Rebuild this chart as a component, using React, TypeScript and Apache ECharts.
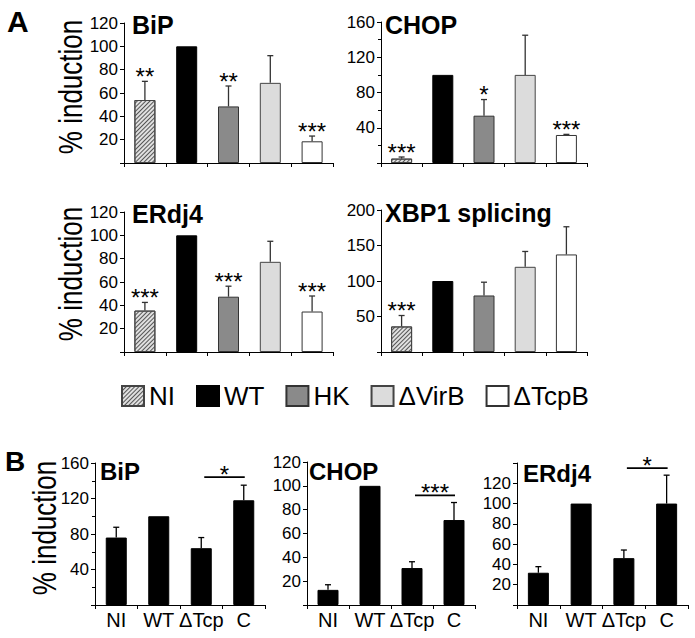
import React, { useEffect, useRef } from 'react';
import * as echarts from 'echarts';

const FONT = '"Liberation Sans", Arial, Helvetica, sans-serif';

// Panel A
const catsA = ['NI', 'WT', 'HK', 'ΔVirB', 'ΔTcpB'];
const bipA = [54, 100, 48.5, 68.7, 18.6];
const bipASd = [16, 0, 17.5, 23.3, 4.5];
const bipAStars = ['**', '', '**', '', '***'];
const chopA = [5, 100, 53.7, 100, 31.8];
const chopASd = [1.8, 0, 18.3, 45, 0.7];
const chopAStars = ['***', '', '*', '', '***'];
const erdj4A = [35.5, 100, 47.4, 77.3, 34.7];
const erdj4ASd = [7, 0, 9, 17.6, 13.3];
const erdj4AStars = ['***', '', '***', '', '***'];
const xbp1A = [36, 100, 79.6, 120, 137.4];
const xbp1ASd = [15.4, 0, 18.7, 21.6, 39];
const xbp1AStars = ['***', '', '', '', ''];

// Panel B
const catsB = ['NI', 'WT', 'ΔTcp', 'C'];
const bipB = [76, 100, 64, 118];
const bipBSd = [11.6, 0, 12, 17];
const chopB = [12.7, 100, 31, 71.3];
const chopBSd = [4.3, 0, 5.3, 14.7];
const erdj4B = [31.8, 100, 46.2, 100];
const erdj4BSd = [6, 0, 8, 28];
// significance brackets: [fromIndex, toIndex, level]
const bipBSig = [2, 3, 144];
const bipBSigLabel = '*';
const chopBSig = [2, 3, 92];
const chopBSigLabel = '***';
const erdj4BSig = [2, 3, 135];
const erdj4BSigLabel = '*';

const hatch = {
  symbol: 'rect',
  symbolSize: 1,
  dashArrayX: [1, 0],
  dashArrayY: [1, 2],
  rotation: -Math.PI / 4,
  color: '#555',
};

const styleA: any[] = [
  { color: '#e0e0e0', borderColor: '#444', borderWidth: 1, decal: hatch },
  { color: '#000', borderColor: '#000', borderWidth: 1 },
  { color: '#8a8a8a', borderColor: '#333', borderWidth: 1 },
  { color: '#dcdcdc', borderColor: '#444', borderWidth: 1 },
  { color: '#fff', borderColor: '#333', borderWidth: 1 },
];

function errRender(stars: string[], color: string) {
  return (params: any, api: any) => {
    const i = api.value(0);
    const v = api.value(1);
    const sd = api.value(2);
    const base = api.coord([i, v]);
    const top = api.coord([i, v + sd]);
    const children: any[] = [];
    if (sd > 0) {
      children.push({
        type: 'line',
        shape: { x1: base[0], y1: base[1], x2: top[0], y2: top[1] },
        style: { stroke: color, lineWidth: 1.3 },
      });
      children.push({
        type: 'line',
        shape: { x1: top[0] - 3, y1: top[1], x2: top[0] + 3, y2: top[1] },
        style: { stroke: color, lineWidth: 1.3 },
      });
    }
    const s = stars[params.dataIndex];
    if (s) {
      children.push({
        type: 'text',
        x: top[0],
        y: top[1] - 5,
        style: { text: s, fill: '#000', font: `24px ${FONT}`, align: 'center', verticalAlign: 'middle' },
      });
    }
    return { type: 'group', children };
  };
}

function sigRender(label: string) {
  return (params: any, api: any) => {
    const a = api.coord([api.value(0), api.value(2)]);
    const b = api.coord([api.value(1), api.value(2)]);
    return {
      type: 'group',
      children: [
        {
          type: 'line',
          shape: { x1: a[0] + 3, y1: a[1], x2: b[0] + 1, y2: b[1] },
          style: { stroke: '#000', lineWidth: 1.8 },
        },
        {
          type: 'text',
          x: (a[0] + b[0]) / 2 + 2,
          y: a[1] - 3,
          style: { text: label, fill: '#000', font: `24px ${FONT}`, align: 'center', verticalAlign: 'middle' },
        },
      ],
    };
  };
}

function xAx(grid: number, cats: string[], showLabels: boolean) {
  return {
    type: 'category',
    gridIndex: grid,
    data: cats,
    axisLine: { show: true, lineStyle: { color: '#000', width: 1 } },
    axisTick: { show: true, length: 4, lineStyle: { color: '#000' } },
    axisLabel: {
      show: showLabels,
      interval: 0,
      fontSize: 20,
      color: '#000',
      fontFamily: FONT,
      margin: 5,
    },
    splitLine: { show: false },
  };
}

function yAx(grid: number, max: number, interval: number, labelMax: number, minor: boolean) {
  return {
    type: 'value',
    gridIndex: grid,
    min: 0,
    max,
    interval,
    splitLine: { show: false },
    axisLine: { show: true, lineStyle: { color: '#000', width: 1 } },
    axisTick: { show: true, length: 4, lineStyle: { color: '#000' } },
    minorTick: { show: minor, splitNumber: 2, length: 3, lineStyle: { color: '#000' } },
    minorSplitLine: { show: false },
    axisLabel: {
      fontSize: 17,
      color: '#000',
      fontFamily: FONT,
      margin: 6,
      formatter: (v: number) => (v === 0 || v > labelMax ? '' : String(v)),
    },
  };
}

function barSeries(grid: number, vals: number[], styles: any[] | null) {
  return {
    type: 'bar',
    xAxisIndex: grid,
    yAxisIndex: grid,
    barWidth: 21,
    data: vals.map((v, i) => ({
      value: v,
      itemStyle: styles ? styles[i] : { color: '#000', borderColor: '#000', borderWidth: 1 },
    })),
    z: 2,
  };
}

function errSeries(grid: number, vals: number[], sds: number[], stars: string[], color: string) {
  return {
    type: 'custom',
    xAxisIndex: grid,
    yAxisIndex: grid,
    clip: false,
    z: 3,
    encode: { x: 0, y: 1 },
    data: vals.map((v, i) => [i, v, sds[i]]),
    renderItem: errRender(stars, color),
  };
}

function sigSeries(grid: number, sig: number[], label: string) {
  return {
    type: 'custom',
    xAxisIndex: grid,
    yAxisIndex: grid,
    clip: false,
    z: 3,
    encode: { x: [0, 1], y: 2 },
    data: [sig],
    renderItem: sigRender(label),
  };
}

function titleText(x: number, y: number, text: string, size: number) {
  return {
    type: 'text',
    x,
    y,
    style: { text, fill: '#000', font: `bold ${size}px ${FONT}`, align: 'left', verticalAlign: 'middle' },
  };
}

function yLabel(x: number, y: number) {
  return {
    type: 'text',
    x,
    y,
    rotation: Math.PI / 2,
    scaleY: 1.3,
    style: { text: '% induction', fill: '#000', font: `26px ${FONT}`, align: 'center', verticalAlign: 'middle' },
  };
}

export default function App() {
  const ref = useRef<HTMLDivElement>(null);
  useEffect(() => {
    if (!ref.current) return;
    const chart = echarts.init(ref.current, null, { renderer: 'svg' });
    const empty = [''];
    const option: any = {
      animation: false,
      backgroundColor: '#fff',
      grid: [
        { left: 124, top: 23, width: 209, height: 140, outerBoundsMode: 'none' },
        { left: 381, top: 22, width: 206, height: 141, outerBoundsMode: 'none' },
        { left: 124, top: 212, width: 209, height: 140, outerBoundsMode: 'none' },
        { left: 381, top: 210, width: 206, height: 142, outerBoundsMode: 'none' },
        { left: 95, top: 463, width: 170, height: 142, outerBoundsMode: 'none' },
        { left: 307, top: 462, width: 168, height: 143, outerBoundsMode: 'none' },
        { left: 517, top: 463, width: 171, height: 142, outerBoundsMode: 'none' },
        { left: 0, top: 0, width: 1, height: 1, show: false, outerBoundsMode: 'none' },
      ],
      xAxis: [
        xAx(0, catsA, false),
        xAx(1, catsA, false),
        xAx(2, catsA, false),
        xAx(3, catsA, false),
        xAx(4, catsB, true),
        xAx(5, catsB, true),
        xAx(6, catsB, true),
        { type: 'category', gridIndex: 7, data: empty, show: false },
      ],
      yAxis: [
        yAx(0, 120, 20, 120, false),
        yAx(1, 160, 40, 160, true),
        yAx(2, 120, 20, 120, false),
        yAx(3, 200, 50, 200, false),
        yAx(4, 160, 40, 160, true),
        yAx(5, 120, 20, 120, false),
        yAx(6, 140, 20, 120, false),
        { type: 'value', gridIndex: 7, show: false },
      ],
      legend: {
        left: 121,
        top: 383,
        padding: 0,
        orient: 'horizontal',
        icon: 'rect',
        itemWidth: 22,
        itemHeight: 20,
        itemGap: 21,
        selectedMode: false,
        textStyle: { fontSize: 26, color: '#000', fontFamily: FONT },
        data: catsA,
      },
      series: [
        barSeries(0, bipA, styleA),
        errSeries(0, bipA, bipASd, bipAStars, '#333'),
        barSeries(1, chopA, styleA),
        errSeries(1, chopA, chopASd, chopAStars, '#333'),
        barSeries(2, erdj4A, styleA),
        errSeries(2, erdj4A, erdj4ASd, erdj4AStars, '#333'),
        barSeries(3, xbp1A, styleA),
        errSeries(3, xbp1A, xbp1ASd, xbp1AStars, '#333'),
        barSeries(4, bipB, null),
        errSeries(4, bipB, bipBSd, ['', '', '', ''], '#000'),
        sigSeries(4, bipBSig, bipBSigLabel),
        barSeries(5, chopB, null),
        errSeries(5, chopB, chopBSd, ['', '', '', ''], '#000'),
        sigSeries(5, chopBSig, chopBSigLabel),
        barSeries(6, erdj4B, null),
        errSeries(6, erdj4B, erdj4BSd, ['', '', '', ''], '#000'),
        sigSeries(6, erdj4BSig, erdj4BSigLabel),
        ...catsA.map((name, i) => ({
          type: 'bar',
          name,
          xAxisIndex: 7,
          yAxisIndex: 7,
          data: [],
          itemStyle: styleA[i],
        })),
      ],
      graphic: [
        { type: 'text', x: 7, y: 21, style: { text: 'A', fill: '#000', font: `bold 30px ${FONT}`, align: 'left', verticalAlign: 'middle' } },
        { type: 'text', x: 5, y: 461, style: { text: 'B', fill: '#000', font: `bold 28px ${FONT}`, align: 'left', verticalAlign: 'middle' } },
        titleText(132, 25, 'BiP', 25),
        titleText(385, 25, 'CHOP', 25),
        titleText(132, 214, 'ERdj4', 25),
        titleText(385, 213, 'XBP1 splicing', 25),
        titleText(100, 471, 'BiP', 24),
        titleText(309, 471, 'CHOP', 24),
        titleText(523, 473, 'ERdj4', 24),
        yLabel(70, 87),
        yLabel(70, 274),
        yLabel(44, 528),
      ],
    };
    chart.setOption(option);
    return () => chart.dispose();
  }, []);
  return (
    <div
      ref={ref}
      style={{ position: 'fixed', left: 0, top: 0, width: 695, height: 638, background: '#fff' }}
    />
  );
}
